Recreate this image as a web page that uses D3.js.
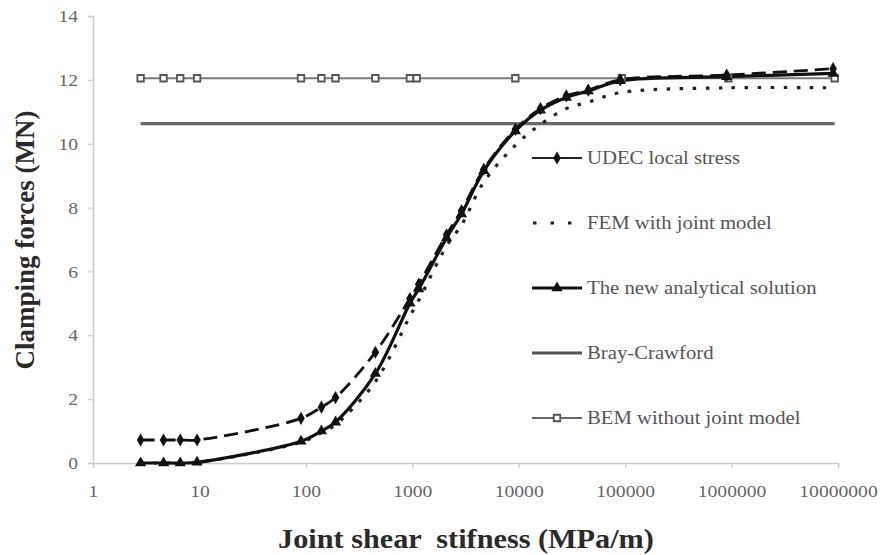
<!DOCTYPE html>
<html><head><meta charset="utf-8">
<script src="https://cdn.jsdelivr.net/npm/d3@7"></script>
<style>
html,body{margin:0;padding:0;background:#fff;}
svg{display:block;}
</style>
</head><body>
<svg id="chart" width="886" height="555"></svg>
<script>
// ---- data ----
const xLow = [2.8, 4.6, 6.6, 9.5, 90, 140, 190, 450, 950, 1150, 2100, 2900, 4700, 9300, 16000, 28000, 45000, 90000, 900000, 9000000];
const udecValues = [0.72, 0.72, 0.72, 0.72, 1.4, 1.75, 2.05, 3.47, 5.15, 5.6, 7.15, 7.9, 9.2, 10.45, 11.1, 11.5, 11.68, 12.0, 12.15, 12.35];
const analyticValues = [0.0, 0.0, 0.0, 0.02, 0.68, 1.0, 1.28, 2.8, 5.0, 5.45, 7.05, 7.8, 9.15, 10.4, 11.05, 11.45, 11.65, 11.97, 12.1, 12.2];
const femValues = [0.0, 0.0, 0.0, 0.02, 0.65, 0.95, 1.2, 2.55, 4.6, 5.1, 6.8, 7.45, 8.8, 9.95, 10.6, 11.1, 11.3, 11.6, 11.75, 11.75];
const bemX = [2.8, 4.6, 6.6, 9.5, 90, 140, 190, 450, 950, 1100, 9300, 93000, 930000, 9300000];
const bemValues = [12.05, 12.05, 12.05, 12.05, 12.05, 12.05, 12.05, 12.05, 12.05, 12.05, 12.05, 12.05, 12.05, 12.05];
const brayX = [2.8, 9300000];
const brayValues = [10.63, 10.63];
const xTicks = [1, 10, 100, 1000, 10000, 100000, 1000000, 10000000];
const yTicks = [0, 2, 4, 6, 8, 10, 12, 14];
const legendLabels = ["UDEC local stress", "FEM with joint model", "The new analytical solution", "Bray-Crawford", "BEM without joint model"];
const yTitle = "Clamping forces (MN)";
const xTitle = "Joint shear  stifness (MPa/m)";

// ---- layout ----
const W = 886, H = 555;
const m = {left: 93, top: 16, right: 48, bottom: 92};
const svg = d3.select("#chart");
const x = d3.scaleLog().domain([1, 1e7]).range([m.left, W - m.right]);
const y = d3.scaleLinear().domain([0, 14]).range([H - m.bottom, m.top]);
const serif = "'Liberation Serif','DejaVu Serif','Times New Roman',serif";
const STRETCH = 1.12;
function stretch(sel, k) {
  sel.each(function() {
    const L = this.getComputedTextLength();
    d3.select(this).attr("textLength", L * k).attr("lengthAdjust", "spacingAndGlyphs");
  });
}

// axes
const xAxis = svg.append("g").attr("transform", `translate(0,${H - m.bottom})`)
  .call(d3.axisBottom(x).tickValues(xTicks).tickFormat(d3.format("d")).tickSize(5).tickPadding(17));
const yAxis = svg.append("g").attr("transform", `translate(${m.left},0)`)
  .call(d3.axisLeft(y).tickValues(yTicks).tickFormat(d3.format("d")).tickSize(5).tickPadding(10));
[xAxis, yAxis].forEach(a => {
  a.select(".domain").attr("stroke", "#c9ccd4").attr("stroke-width", 1.5);
  a.selectAll(".tick line").attr("stroke", "#c9ccd4").attr("stroke-width", 1.2);
  a.selectAll(".tick text").attr("fill", "#666").attr("font-family", serif).attr("font-size", 17.5);
  stretch(a.selectAll(".tick text"), STRETCH);
});

// line generators
const line = d3.line().x(d => x(d[0])).y(d => y(d[1])).curve(d3.curveCatmullRom.alpha(0.5));
const zip = (xs, ys) => xs.map((v, i) => [v, ys[i]]);

const gPlot = svg.append("g");

// Bray-Crawford
gPlot.append("path").datum(zip(brayX, brayValues)).attr("d", line)
  .attr("fill", "none").attr("stroke", "#6a6a6a").attr("stroke-width", 3.2);
// BEM
gPlot.append("path").datum(zip(bemX, bemValues)).attr("d", line)
  .attr("fill", "none").attr("stroke", "#7a7a7a").attr("stroke-width", 2);
// FEM dotted
gPlot.append("path").datum(zip(xLow, femValues)).attr("d", line)
  .attr("fill", "none").attr("stroke", "#222").attr("stroke-width", 3.2).attr("stroke-dasharray", "3.5,9.5");
// UDEC dashed
gPlot.append("path").datum(zip(xLow, udecValues)).attr("d", line)
  .attr("fill", "none").attr("stroke", "#111").attr("stroke-width", 2.8).attr("stroke-dasharray", "14,7");
// Analytical solid
gPlot.append("path").datum(zip(xLow, analyticValues)).attr("d", line)
  .attr("fill", "none").attr("stroke", "#111").attr("stroke-width", 3.2);

const diamond = d3.symbol().type(d3.symbolDiamond).size(50);
const triangle = d3.symbol().type(d3.symbolTriangle).size(55);
const square = d3.symbol().type(d3.symbolSquare).size(42);

gPlot.selectAll(".bem").data(zip(bemX, bemValues)).join("path")
  .attr("transform", d => `translate(${x(d[0])},${y(d[1])})`).attr("d", square)
  .attr("fill", "#fff").attr("stroke", "#555").attr("stroke-width", 1.8);
gPlot.selectAll(".udec").data(zip(xLow, udecValues)).join("path")
  .attr("transform", d => `translate(${x(d[0])},${y(d[1])})`).attr("d", diamond)
  .attr("fill", "#111");
gPlot.selectAll(".ana").data(zip(xLow, analyticValues)).join("path")
  .attr("transform", d => `translate(${x(d[0])},${y(d[1])})`).attr("d", triangle)
  .attr("fill", "#111");

// legend
const legY = [158, 223, 288, 353, 418];
const lx0 = 532, lx1 = 582;
const leg = svg.append("g");
legendLabels.forEach((lab, i) => {
  const g = leg.append("g").attr("transform", `translate(0,${legY[i]})`);
  const ln = g.append("line").attr("x1", lx0).attr("x2", lx1).attr("y1", 0).attr("y2", 0);
  if (i === 0) {
    ln.attr("stroke", "#222").attr("stroke-width", 2.2);
    g.append("path").attr("transform", `translate(${(lx0+lx1)/2},0)`).attr("d", diamond).attr("fill", "#111");
  } else if (i === 1) {
    ln.attr("stroke", "#222").attr("stroke-width", 3.2).attr("stroke-dasharray", "3.5,14").attr("x1", lx0 + 1);
  } else if (i === 2) {
    ln.attr("stroke", "#111").attr("stroke-width", 3.2);
    g.append("path").attr("transform", `translate(${(lx0+lx1)/2},0)`).attr("d", triangle).attr("fill", "#111");
  } else if (i === 3) {
    ln.attr("stroke", "#555").attr("stroke-width", 3.2);
  } else {
    ln.attr("stroke", "#666").attr("stroke-width", 2);
    g.append("path").attr("transform", `translate(${(lx0+lx1)/2},0)`).attr("d", square)
      .attr("fill", "#fff").attr("stroke", "#555").attr("stroke-width", 1.8);
  }
  const t = g.append("text").attr("x", 587).attr("y", 0).attr("dy", "0.35em")
    .attr("font-family", serif).attr("font-size", 18.5).attr("fill", "#555").text(lab);
  stretch(t, STRETCH);
});

// axis titles
svg.append("text").attr("transform", `translate(34,240) rotate(-90)`)
  .attr("text-anchor", "middle").attr("font-family", serif).attr("font-weight", "bold")
  .attr("font-size", 27).attr("fill", "#2a2a2a").text(yTitle);
const xt = svg.append("text").attr("x", 466).attr("y", 548).attr("text-anchor", "middle")
  .attr("font-family", serif).attr("font-weight", "bold").attr("font-size", 27).attr("fill", "#2a2a2a")
  .style("white-space", "pre").attr("xml:space", "preserve").text(xTitle);
stretch(xt, STRETCH);
</script>
</body></html>
